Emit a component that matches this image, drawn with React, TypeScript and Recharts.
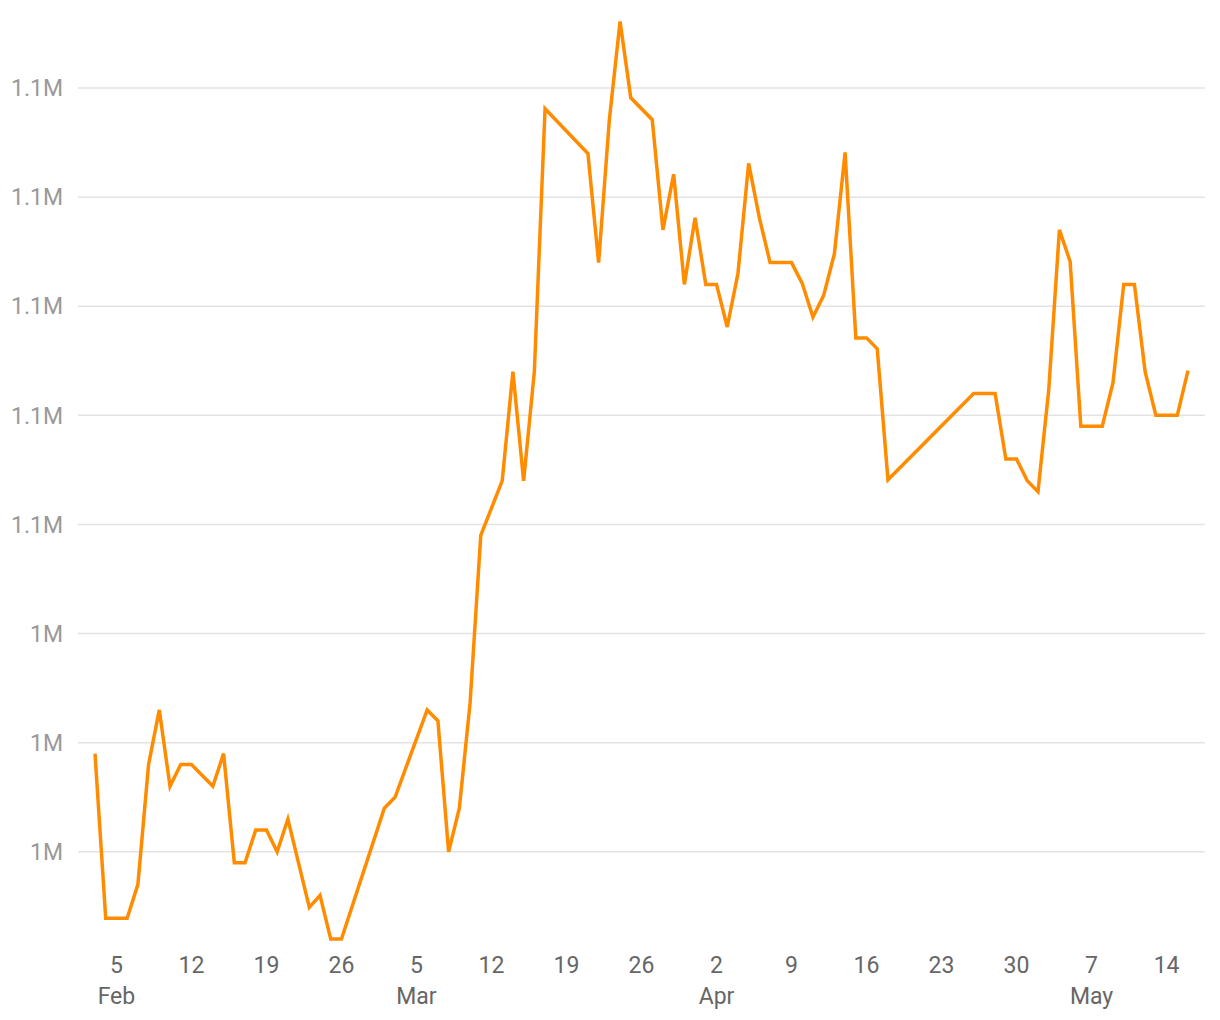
import React from "react";
import { LineChart, Line, XAxis, YAxis, CartesianGrid } from "recharts";

// dates (2023) and daily values
const dates = [
  "02-03", "02-04", "02-06", "02-07", "02-08", "02-09", "02-10", "02-11", "02-12", "02-14",
  "02-15", "02-16", "02-17", "02-18", "02-19", "02-20", "02-21", "02-23", "02-24", "02-25",
  "02-26", "03-02", "03-03", "03-06", "03-07", "03-08", "03-09", "03-10", "03-11", "03-13",
  "03-14", "03-15", "03-16", "03-17", "03-21", "03-22", "03-23", "03-24", "03-25", "03-27",
  "03-28", "03-29", "03-30", "03-31", "04-01", "04-02", "04-03", "04-04", "04-05", "04-06",
  "04-07", "04-08", "04-09", "04-10", "04-11", "04-12", "04-13", "04-14", "04-15", "04-16",
  "04-17", "04-18", "04-26", "04-28", "04-29", "04-30", "05-01", "05-02", "05-03", "05-04",
  "05-05", "05-06", "05-07", "05-08", "05-09", "05-10", "05-11", "05-12", "05-13", "05-14",
  "05-15", "05-16",
];

const values = [
  1029000, 1013900, 1013900, 1017000, 1028000, 1033000, 1026000, 1028000, 1028000, 1026000,
  1029000, 1019000, 1019000, 1022000, 1022000, 1020000, 1023000, 1014900, 1016000, 1012000,
  1012000, 1024000, 1025000, 1033000, 1032000, 1020000, 1024000, 1033600, 1049000, 1054000,
  1064000, 1054000, 1064000, 1088100, 1084000, 1074000, 1087100, 1096100, 1089100, 1087100,
  1077000, 1082100, 1072000, 1078100, 1072000, 1072000, 1068100, 1073000, 1083100, 1078100,
  1074000, 1074000, 1074000, 1072100, 1069000, 1071000, 1074800, 1084100, 1067100, 1067100,
  1066100, 1054100, 1062000, 1062000, 1056000, 1056000, 1054000, 1053000, 1062300, 1077000,
  1074100, 1059000, 1059000, 1059000, 1063000, 1072000, 1072000, 1064000, 1060000, 1060000,
  1060000, 1064100,
];

const xTickDates = [
  "02-05", "02-12", "02-19", "02-26", "03-05", "03-12", "03-19", "03-26",
  "04-02", "04-09", "04-16", "04-23", "04-30", "05-07", "05-14",
];
const xTickLabels = ["5", "12", "19", "26", "5", "12", "19", "26", "2", "9", "16", "23", "30", "7", "14"];
const xMonthLabels = ["Feb", "", "", "", "Mar", "", "", "", "Apr", "", "", "", "", "May", ""];

const yTicks = [1020000, 1030000, 1040000, 1050000, 1060000, 1070000, 1080000, 1090000];
const yTickLabels = ["1M", "1M", "1M", "1.1M", "1.1M", "1.1M", "1.1M", "1.1M"];

const dayNum = (md: string) => {
  const [m, d] = md.split("-").map(Number);
  return Date.UTC(2023, m - 1, d) / 86400000;
};

const data = dates.map((d, i) => ({ day: dayNum(d), value: values[i] }));
const xTicks = xTickDates.map(dayNum);

const FONT = "Roboto, 'Noto Sans', sans-serif";

const DateTick = (props: any) => {
  const { x, y, payload } = props;
  const i = xTicks.indexOf(payload.value);
  return (
    <g>
      <text x={x} y={y + 23} textAnchor="middle" fill="#666" fontSize={23} fontFamily={FONT}>
        {xTickLabels[i]}
      </text>
      {xMonthLabels[i] && (
        <text x={x} y={y + 54} textAnchor="middle" fill="#666" fontSize={23} fontFamily={FONT}>
          {xMonthLabels[i]}
        </text>
      )}
    </g>
  );
};

export default function App() {
  return (
    <div style={{ position: "absolute", left: 0, top: 0, width: 1220, height: 1020, background: "#fff" }}>
      <LineChart width={1220} height={1020} data={data} margin={{ top: 10, right: 15, bottom: 10, left: 0 }}>
        <CartesianGrid vertical={false} stroke="#e3e3e3" strokeWidth={1.5} syncWithTicks />
        <XAxis
          dataKey="day"
          type="number"
          domain={["dataMin", "dataMax"]}
          padding={{ left: 17, right: 17 }}
          ticks={xTicks}
          tick={<DateTick />}
          tickSize={0}
          tickMargin={0}
          axisLine={false}
          tickLine={false}
          height={60}
          interval={0}
        />
        <YAxis
          type="number"
          domain={[1011000, 1097150]}
          allowDataOverflow
          ticks={yTicks}
          tickFormatter={(v: number) => yTickLabels[yTicks.indexOf(v)]}
          tick={{ fill: "#999", fontSize: 23, fontFamily: FONT }}
          tickSize={0}
          tickMargin={15}
          axisLine={false}
          tickLine={false}
          width={78}
          interval={0}
        />
        <Line
          type="linear"
          dataKey="value"
          stroke="#ff8c00"
          strokeWidth={3.5}
          dot={false}
          isAnimationActive={false}
        />
      </LineChart>
    </div>
  );
}
